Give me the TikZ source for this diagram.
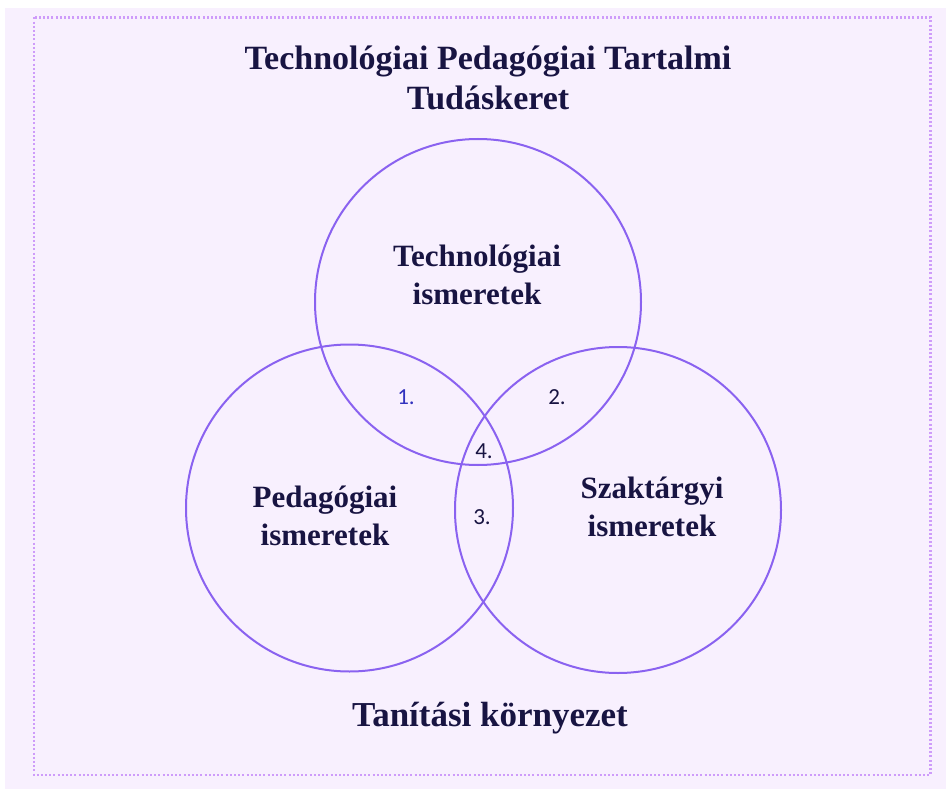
\documentclass[tikz,border=0pt]{standalone}
\usepackage{fontspec}
\setmainfont{Liberation Serif}
\newfontfamily\numfont{Carlito}
\usetikzlibrary{positioning}
\definecolor{framecolor}{RGB}{248, 240, 254}
\definecolor{dotcolor}{RGB}{206, 156, 250}
\definecolor{ringcolor}{RGB}{138, 98, 240}
\definecolor{textcolor}{RGB}{24, 20, 66}
\definecolor{onecolor}{RGB}{50, 50, 190}

\begin{document}
\begin{tikzpicture}[
    x=1pt, y=-1pt,
    ring/.style={draw=ringcolor, line width=2pt},
    label/.style={font=\fontsize{31}{38}\selectfont\bfseries, text=textcolor, align=center},
    heading/.style={font=\fontsize{34}{40}\selectfont\bfseries, text=textcolor, align=center},
    number/.style={font=\numfont\fontsize{23}{26}\selectfont, text=textcolor},
]
    % Background and frame
    \useasboundingbox (0, 0) rectangle (946, 789);
    \fill[framecolor] (5, 8) rectangle (946, 789);
    \draw[dotcolor, line width=2.5pt, dash pattern=on 2pt off 2.2pt] (34, 17.5) rectangle (930.5, 775);

    % Title
    \node[heading] (title) at (488, 78) {Technológiai Pedagógiai Tartalmi\\Tudáskeret};

    % Circles
    \draw[ring] (478, 302) circle (163);
    \draw[ring] (349.5, 508) circle (163.5);
    \draw[ring] (618, 510) circle (163);

    % Circle labels
    \node[label] (tech) at (477, 275) {Technológiai\\ismeretek};
    \node[label] (ped) at (325, 516) {Pedagógiai\\ismeretek};
    \node[label] (szak) at (652, 507) {Szaktárgyi\\ismeretek};

    % Overlaps
    \node[number, text=onecolor] (one) at (406, 397) {1.};
    \node[number] (two) at (557, 397) {2.};
    \node[number] (four) at (484, 451) {4.};
    \node[number] (three) at (482, 517) {3.};

    % Environment
    \node[heading, font=\fontsize{35}{40}\selectfont\bfseries] (env) at (490, 718) {Tanítási környezet};
\end{tikzpicture}
\end{document}
